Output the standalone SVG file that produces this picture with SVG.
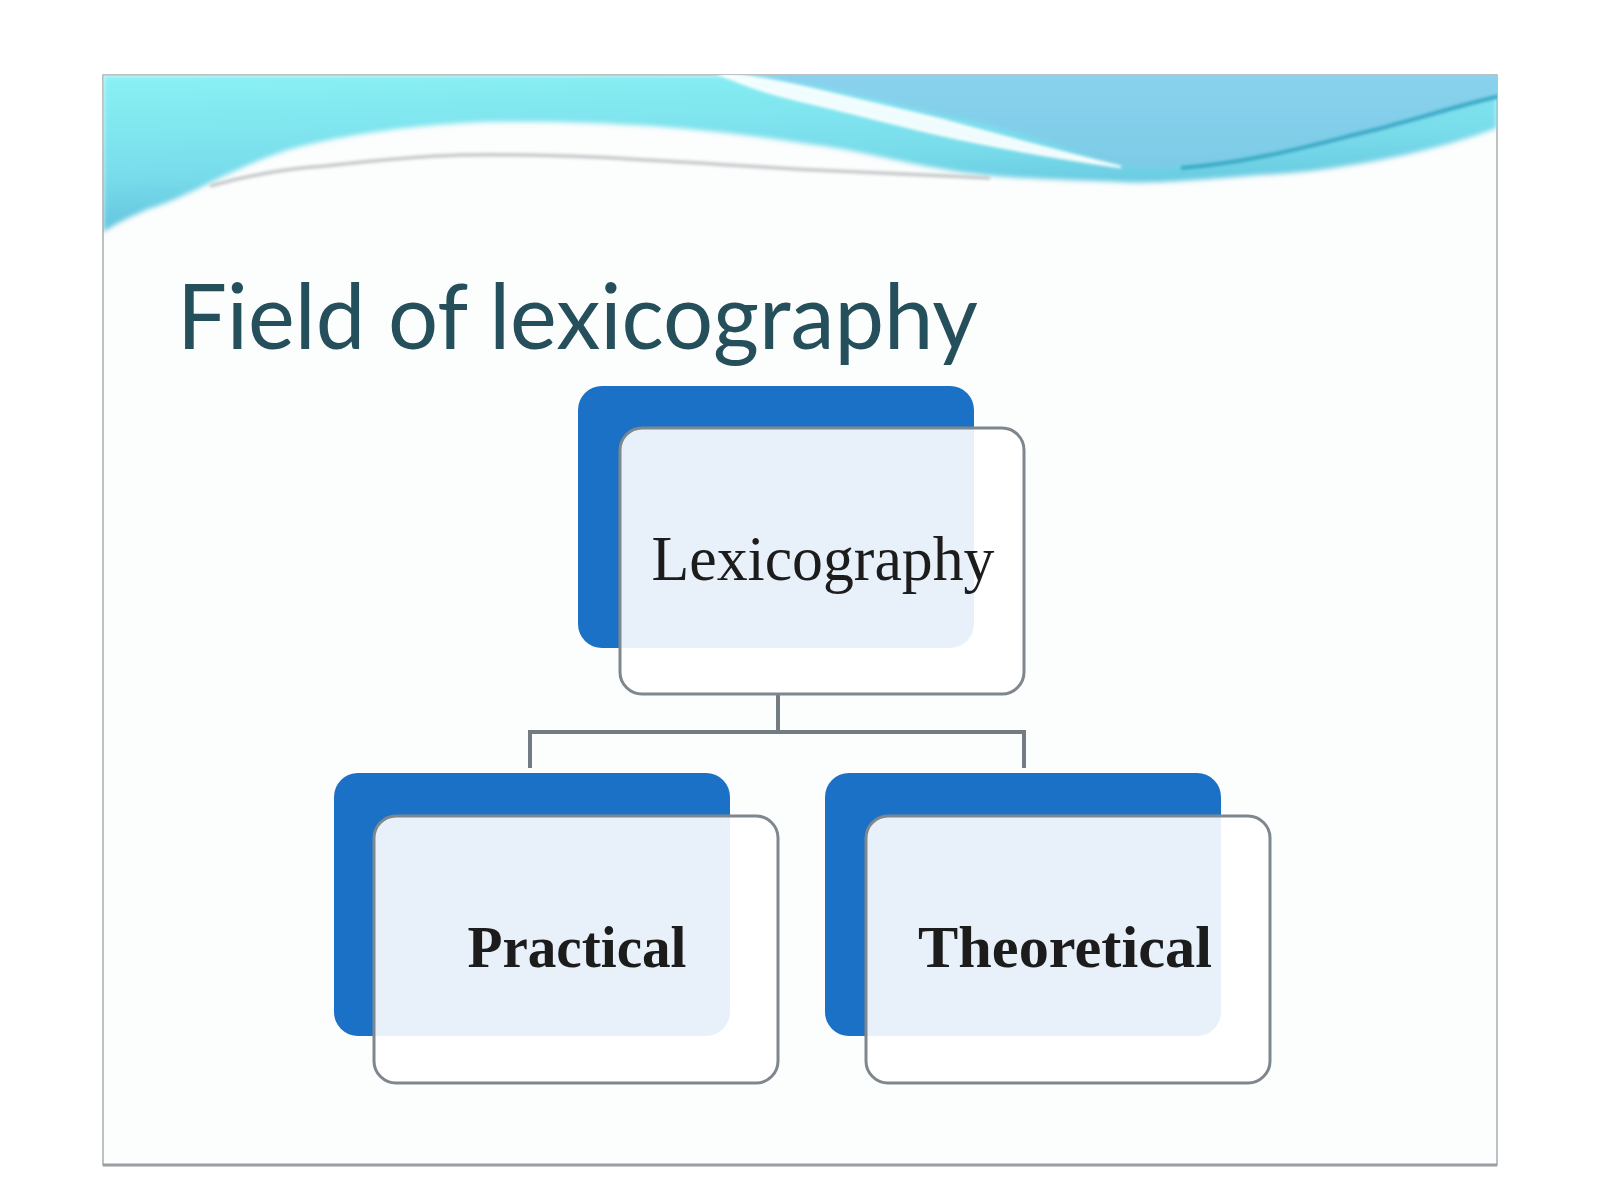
<svg xmlns="http://www.w3.org/2000/svg" width="1600" height="1200" viewBox="0 0 1600 1200">
  <style>
    .back { fill: #1b71c6; }
    .front { fill: #ffffff; fill-opacity: 0.9; stroke: #7d878d; stroke-width: 3; }
    .label { font-family: "Liberation Serif", "Times New Roman", serif; fill: #1c1c1c; text-anchor: middle; }
    .conn { fill: none; stroke: #737c82; stroke-width: 4; }
  </style>
  <defs>
    <linearGradient id="cyan" x1="0" y1="0" x2="0.3" y2="1">
      <stop offset="0" stop-color="#8af1f5"/>
      <stop offset="0.6" stop-color="#78dcea"/>
      <stop offset="1" stop-color="#5fbedb"/>
    </linearGradient>
    <linearGradient id="sky" x1="0" y1="0" x2="0" y2="1">
      <stop offset="0" stop-color="#8ad2ee"/>
      <stop offset="1" stop-color="#7ccbe6"/>
    </linearGradient>
    <filter id="soft" x="-5%" y="-20%" width="110%" height="140%">
      <feGaussianBlur stdDeviation="2.5"/>
    </filter>
    <filter id="soft2" x="-5%" y="-50%" width="110%" height="200%">
      <feGaussianBlur stdDeviation="1.5"/>
    </filter>
    <clipPath id="slideClip">
      <rect x="103" y="75" width="1394" height="1090"/>
    </clipPath>
  </defs>

  <rect x="0" y="0" width="1600" height="1200" fill="#ffffff"/>

  <!-- slide frame -->
  <rect x="103" y="75" width="1394" height="1090" fill="#fcfdfd" stroke="#a9adb0" stroke-width="1.5"/>
  <line x1="103" y1="1165" x2="1497" y2="1165" stroke="#9a9ea2" stroke-width="3"/>

  <!-- header wave -->
  <g clip-path="url(#slideClip)">
    <path d="M103,75 H1497 V128 C1440,150 1340,172 1259,175 C1200,180 1150,184 1121,182 C1060,180 1010,178 984,175 C920,168 860,150 815,145 C720,130 620,120 485,122 C380,126 300,145 279,153 C230,170 190,195 160,205 C130,215 110,228 103,232 Z" fill="url(#cyan)" filter="url(#soft)"/>
    <path d="M729,72 H1500 V96 C1420,118 1300,160 1181,167 C1160,168 1140,168 1121,166 C1075,152 1000,125 938,115 C880,100 820,88 729,72 Z" fill="url(#sky)" filter="url(#soft)"/>
    <!-- white streak -->
    <path d="M715,72 C760,78 790,84 815,90 C860,101 900,110 938,119 C1000,136 1060,152 1121,167 C1060,158 1000,148 938,134 C890,123 850,112 815,104 C780,96 750,88 715,72 Z" fill="#ffffff" fill-opacity="0.88" stroke="#ffffff" stroke-width="3" stroke-opacity="0.8" filter="url(#soft2)"/>
    <!-- teal edge stroke -->
    <path d="M1181,168 C1260,162 1330,140 1374,130 C1420,118 1460,105 1500,96" fill="none" stroke="#3aaac6" stroke-width="4" filter="url(#soft2)"/>
    <!-- grey shadow line under white band -->
    <path d="M210,186 C250,175 290,168 325,166 C380,160 420,156 462,155 C540,154 600,157 646,160 C720,164 770,168 815,170 C880,173 940,176 990,178" fill="none" stroke="#c4c9cb" stroke-width="3.5" filter="url(#soft2)"/>
  </g>

  <!-- title -->
  <text x="177" y="349" font-family="Lato, 'Liberation Sans', sans-serif" font-size="92" fill="#244f5b" textLength="801" lengthAdjust="spacingAndGlyphs">Field of lexicography</text>

  <!-- connectors -->
  <g id="connectors">
    <path class="conn" d="M778,694 V732"/>
    <path class="conn" d="M530,768 V732 H1024 V768"/>
  </g>

  <!-- nodes -->
  <g id="node-lexicography">
    <rect class="back" x="578" y="386" width="396" height="262" rx="24"/>
    <rect class="front" x="620" y="428" width="404" height="266" rx="22"/>
    <text class="label" x="823" y="580" font-size="63" textLength="343" lengthAdjust="spacingAndGlyphs">Lexicography</text>
  </g>

  <g id="node-practical">
    <rect class="back" x="334" y="773" width="396" height="263" rx="24"/>
    <rect class="front" x="374" y="816" width="404" height="267" rx="22"/>
    <text class="label" x="577" y="967" font-size="60" font-weight="bold" textLength="219" lengthAdjust="spacingAndGlyphs">Practical</text>
  </g>

  <g id="node-theoretical">
    <rect class="back" x="825" y="773" width="396" height="263" rx="24"/>
    <rect class="front" x="866" y="816" width="404" height="267" rx="22"/>
    <text class="label" x="1065" y="967" font-size="60" font-weight="bold" textLength="294" lengthAdjust="spacingAndGlyphs">Theoretical</text>
  </g>
</svg>
